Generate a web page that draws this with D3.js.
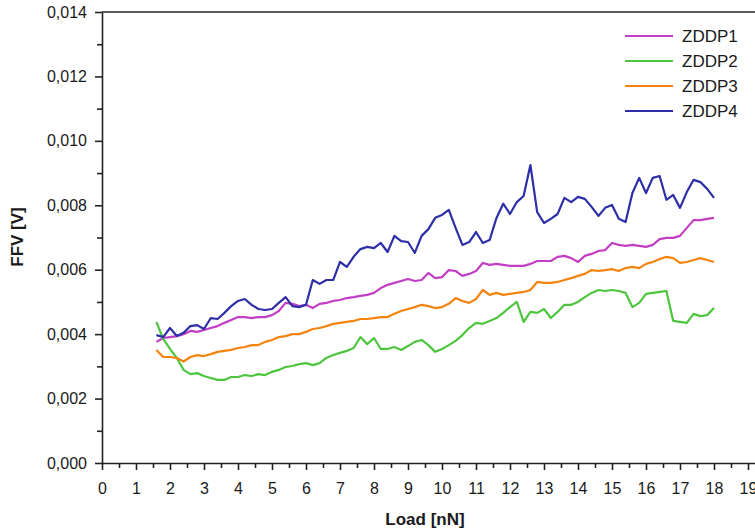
<!DOCTYPE html>
<html>
<head>
<meta charset="utf-8">
<script src="https://cdn.jsdelivr.net/npm/d3@7"></script>
<style>
  body { margin: 0; background: #fff; }
  text { font-family: "Liberation Sans", Arial, sans-serif; fill: #1a1a1a; }
</style>
</head>
<body>
<div id="chart"></div>
<script>
// load [nN], shared by all series
const load = [1.6, 1.8, 2.0, 2.2, 2.4, 2.6, 2.8, 3.0, 3.2, 3.4, 3.6, 3.8, 4.0, 4.2, 4.4, 4.6, 4.8, 5.0, 5.2, 5.4, 5.6, 5.8, 6.0,
  6.2, 6.4, 6.6, 6.8, 7.0, 7.2, 7.4, 7.6, 7.8, 8.0, 8.2, 8.4, 8.6, 8.8, 9.0, 9.2, 9.4, 9.6, 9.8, 10.0, 10.2, 10.4,
  10.6, 10.8, 11.0, 11.2, 11.4, 11.6, 11.8, 12.0, 12.2, 12.4, 12.6, 12.8, 13.0, 13.2, 13.4, 13.6, 13.8, 14.0, 14.2, 14.4, 14.6, 14.8,
  15.0, 15.2, 15.4, 15.6, 15.8, 16.0, 16.2, 16.4, 16.6, 16.8, 17.0, 17.2, 17.4, 17.6, 17.8, 18.0];

// FFV values in mV (x 0.001 V)
const zddp1 = [3.76, 3.88, 3.91, 3.94, 4.00, 4.10, 4.07, 4.13, 4.19, 4.25, 4.35, 4.44, 4.53, 4.53, 4.50, 4.53, 4.53, 4.59, 4.72, 4.97, 4.94, 4.87, 4.91,
  4.81, 4.94, 4.97, 5.03, 5.06, 5.12, 5.15, 5.19, 5.22, 5.28, 5.43, 5.53, 5.59, 5.65, 5.71, 5.65, 5.68, 5.90, 5.74, 5.77, 5.99, 5.96,
  5.81, 5.87, 5.96, 6.21, 6.15, 6.18, 6.15, 6.12, 6.12, 6.12, 6.18, 6.27, 6.27, 6.27, 6.40, 6.43, 6.36, 6.24, 6.43, 6.49, 6.58, 6.61,
  6.83, 6.77, 6.74, 6.77, 6.74, 6.71, 6.77, 6.95, 6.99, 6.99, 7.05, 7.30, 7.54, 7.54, 7.58, 7.61];

const zddp2 = [4.38, 3.85, 3.54, 3.26, 2.89, 2.76, 2.79, 2.70, 2.64, 2.58, 2.58, 2.67, 2.67, 2.73, 2.70, 2.76, 2.73, 2.83, 2.89, 2.98, 3.01, 3.07, 3.10,
  3.04, 3.10, 3.26, 3.35, 3.42, 3.48, 3.57, 3.91, 3.69, 3.88, 3.54, 3.54, 3.60, 3.51, 3.63, 3.76, 3.82, 3.66, 3.45, 3.54, 3.66, 3.79,
  3.97, 4.19, 4.35, 4.32, 4.41, 4.50, 4.66, 4.84, 5.00, 4.38, 4.69, 4.66, 4.78, 4.50, 4.69, 4.91, 4.91, 5.00, 5.15, 5.28, 5.37, 5.34,
  5.37, 5.34, 5.28, 4.84, 4.97, 5.25, 5.28, 5.31, 5.34, 4.41, 4.38, 4.35, 4.63, 4.56, 4.59, 4.81];

const zddp3 = [3.51, 3.29, 3.29, 3.26, 3.15, 3.29, 3.35, 3.32, 3.38, 3.45, 3.48, 3.51, 3.57, 3.60, 3.66, 3.66, 3.76, 3.82, 3.91, 3.94, 4.00, 4.00, 4.07,
  4.16, 4.19, 4.25, 4.32, 4.35, 4.38, 4.41, 4.47, 4.47, 4.50, 4.53, 4.53, 4.63, 4.72, 4.78, 4.84, 4.91, 4.87, 4.81, 4.84, 4.94, 5.12,
  5.03, 4.97, 5.09, 5.37, 5.22, 5.28, 5.22, 5.25, 5.28, 5.31, 5.37, 5.62, 5.59, 5.59, 5.62, 5.68, 5.74, 5.81, 5.87, 5.99, 5.96, 5.99,
  6.02, 5.96, 6.05, 6.09, 6.05, 6.18, 6.24, 6.33, 6.40, 6.36, 6.21, 6.24, 6.30, 6.36, 6.30, 6.24];

const zddp4 = [3.97, 3.91, 4.19, 3.94, 4.04, 4.25, 4.28, 4.16, 4.50, 4.47, 4.66, 4.87, 5.03, 5.09, 4.91, 4.78, 4.75, 4.78, 4.97, 5.15, 4.87, 4.84, 4.91,
  5.68, 5.56, 5.68, 5.68, 6.24, 6.09, 6.40, 6.64, 6.71, 6.67, 6.83, 6.55, 7.05, 6.89, 6.86, 6.52, 7.05, 7.26, 7.61, 7.70, 7.86, 7.30,
  6.77, 6.86, 7.17, 6.83, 6.92, 7.60, 8.05, 7.73, 8.10, 8.29, 9.25, 7.79, 7.45, 7.58, 7.73, 8.23, 8.10, 8.26, 8.20, 7.95, 7.67, 7.92,
  8.01, 7.58, 7.48, 8.38, 8.85, 8.38, 8.85, 8.91, 8.17, 8.32, 7.92, 8.41, 8.79, 8.72, 8.51, 8.23];

const seriesNames = ["ZDDP1", "ZDDP2", "ZDDP3", "ZDDP4"];
const seriesColors = ["#c23ec4", "#4dc63e", "#f5840f", "#2e2ea8"];
const seriesValues = [zddp1, zddp2, zddp3, zddp4];

const xTicks = d3.range(0, 20);
const yTicks = [0, 2, 4, 6, 8, 10, 12, 14];

const W = 755, H = 532;
const margin = { top: 12, left: 102, bottom: 69 };

const svg = d3.select("#chart").append("svg")
  .attr("width", W)
  .attr("height", H);

// scales: 34px per nN, axis runs off the right edge
const xScale = d3.scaleLinear().domain([0, 19.5]).range([margin.left, margin.left + 19.5 * 34]);
const yScale = d3.scaleLinear().domain([0, 14]).range([H - margin.bottom, margin.top]);

const fmtY = v => d3.format(".3f")(v / 1000).replace(".", ",");

// minor ticks
svg.append("g")
  .attr("transform", `translate(0,${yScale(0)})`)
  .call(d3.axisBottom(xScale).tickValues(d3.range(0.5, 20, 1)).tickSize(5).tickFormat(""))
  .call(g => g.select(".domain").remove());
svg.append("g")
  .attr("transform", `translate(${xScale(0)},0)`)
  .call(d3.axisLeft(yScale).tickValues(d3.range(1, 14, 2)).tickSize(5).tickFormat(""))
  .call(g => g.select(".domain").remove());

// main axes
const xAxis = svg.append("g")
  .attr("transform", `translate(0,${yScale(0)})`)
  .call(d3.axisBottom(xScale).tickValues(xTicks).tickSize(7).tickPadding(13).tickSizeOuter(0));
xAxis.selectAll("text").style("font-size", "16px");

const yAxis = svg.append("g")
  .attr("transform", `translate(${xScale(0)},0)`)
  .call(d3.axisLeft(yScale).tickValues(yTicks).tickSize(7).tickPadding(8).tickFormat(fmtY).tickSizeOuter(0));
yAxis.selectAll("text").style("font-size", "16px");

svg.selectAll(".tick line").attr("stroke", "#222").attr("stroke-width", 1.6);
svg.selectAll(".domain").attr("stroke", "#222").attr("stroke-width", 1.6);

// top frame line
svg.append("line")
  .attr("x1", xScale(0)).attr("x2", W)
  .attr("y1", yScale(14)).attr("y2", yScale(14))
  .attr("stroke", "#222").attr("stroke-width", 1.6);

// axis titles
svg.append("text")
  .attr("x", 425).attr("y", 525)
  .attr("text-anchor", "middle")
  .style("font-size", "17px")
  .style("font-weight", "bold")
  .text("Load [nN]");

svg.append("text")
  .attr("transform", "translate(23,237) rotate(-90)")
  .attr("text-anchor", "middle")
  .style("font-size", "17px")
  .style("font-weight", "bold")
  .text("FFV [V]");

// lines
const line = d3.line()
  .x((d, i) => xScale(load[i]))
  .y(d => yScale(d));

svg.selectAll(".series")
  .data(seriesValues)
  .enter()
  .append("path")
  .attr("class", "series")
  .attr("d", d => line(d))
  .attr("fill", "none")
  .attr("stroke", (d, i) => seriesColors[i])
  .attr("stroke-width", 2.2)
  .attr("stroke-linejoin", "round");

// legend
const legend = svg.append("g").attr("transform", "translate(625,36)");
seriesNames.forEach((name, i) => {
  legend.append("line")
    .attr("x1", 0).attr("x2", 48)
    .attr("y1", i * 25).attr("y2", i * 25)
    .attr("stroke", seriesColors[i])
    .attr("stroke-width", 2);
  legend.append("text")
    .attr("x", 57).attr("y", i * 25)
    .attr("dy", "0.36em")
    .style("font-size", "17px")
    .text(name);
});
</script>
</body>
</html>
